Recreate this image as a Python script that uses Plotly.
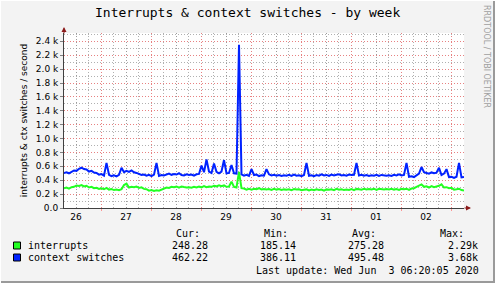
import plotly.graph_objects as go
import pandas as pd

# ---------------- data ----------------
start_time = "2020-05-26 06:14"
step_minutes = 72
ctx_switches = [
    505, 515, 500, 525, 540, 535, 565, 580, 560, 555,
    525, 535, 510, 505, 480, 488, 465, 650, 478, 460,
    470, 455, 478, 580, 515, 535, 520, 540, 515, 505,
    495, 475, 482, 465, 478, 460, 480, 650, 462, 475,
    468, 485, 495, 478, 490, 482, 500, 475, 468, 485,
    475, 482, 465, 485, 490, 610, 515, 700, 525, 505,
    640, 520, 500, 525, 690, 500, 505, 620, 500, 495,
    2350, 485, 465, 478, 462, 560, 475, 482, 460, 472,
    465, 560, 485, 470, 478, 465, 475, 462, 472, 465,
    478, 462, 480, 465, 472, 460, 476, 650, 465, 472,
    458, 474, 465, 485, 468, 476, 462, 482, 468, 478,
    485, 468, 476, 465, 482, 474, 478, 650, 468, 478,
    465, 474, 462, 472, 465, 478, 462, 476, 470, 465,
    472, 462, 478, 470, 484, 468, 475, 650, 450, 458,
    446, 465, 495, 590, 515, 505, 495, 512, 500, 508,
    580, 475, 495, 560, 445, 448, 432, 450, 650, 440,
    445,
]
interrupts = [
    285, 295, 280, 300, 305, 325, 318, 330, 310, 320,
    295, 305, 285, 290, 275, 285, 270, 290, 265, 272,
    258, 265, 255, 270, 330, 350, 295, 305, 298, 310,
    290, 298, 275, 270, 250, 258, 245, 255, 248, 265,
    275, 295, 288, 305, 298, 310, 292, 310, 302, 295,
    300, 292, 305, 295, 310, 298, 315, 300, 308, 305,
    320, 312, 328, 315, 325, 305, 310, 380, 305, 295,
    520, 285, 280, 265, 275, 265, 278, 270, 285, 268,
    275, 268, 272, 260, 275, 265, 272, 260, 268, 262,
    270, 258, 272, 265, 270, 256, 262, 268, 252, 265,
    255, 268, 260, 265, 250, 268, 262, 270, 258, 275,
    262, 270, 258, 265, 260, 272, 258, 275, 270, 262,
    275, 266, 272, 268, 278, 262, 276, 270, 265, 272,
    268, 278, 265, 272, 260, 275, 270, 278, 262, 280,
    285, 305, 325, 340, 305, 312, 295, 315, 300, 305,
    320, 340, 295, 300, 285, 290, 265, 270, 278, 258,
    250,
]
series_names = ["interrupts", "context switches"]
series_colors = ["#22ff22", "#0022ff"]
stat_cur = [248.28, 462.22]
stat_min = [185.14, 386.11]
stat_avg = [275.28, 495.48]
stat_max = [2290, 3680]
day_labels = ["26", "27", "28", "29", "30", "31", "01", "02"]
day_noons = pd.date_range("2020-05-26 12:00", periods=8, freq="D")
y_ticks = [0, 200, 400, 600, 800, 1000, 1200, 1400, 1600, 1800, 2000, 2200, 2400]
y_ticktext = ["0.0"] + [f"{v/1000:.1f} k" for v in y_ticks[1:]]
x_range = ["2020-05-26 06:14", "2020-06-03 06:14"]
y_range = [0, 2520]
last_update = "Last update: Wed Jun  3 06:20:05 2020"

times = pd.date_range(start_time, periods=len(ctx_switches), freq=f"{step_minutes}min")

# ---------------- figure ----------------
W, H = 495, 283
L, R, T, B = 64, 31, 33, 75
PW, PH = W - L - R, H - T - B


def px(x):
    return (x - L) / PW


def py(y):
    return (H - B - y) / PH


MONO = "DejaVu Sans Mono"
SANS = "DejaVu Sans"

fig = go.Figure()
fig.add_trace(go.Scatter(x=times, y=interrupts, mode="lines",
                         line=dict(color=series_colors[0], width=2),
                         showlegend=False, hoverinfo="skip"))
fig.add_trace(go.Scatter(x=times, y=ctx_switches, mode="lines",
                         line=dict(color=series_colors[1], width=2),
                         showlegend=False, hoverinfo="skip"))
# helper trace for the day-boundary axis
fig.add_trace(go.Scatter(x=x_range, y=[None, None], xaxis="x2", mode="lines",
                         showlegend=False, hoverinfo="skip"))

grey = "rgba(150,150,150,0.75)"
red = "rgba(255,110,110,0.7)"
DOT = "1px,2px"

fig.update_layout(
    width=W, height=H,
    margin=dict(l=L, r=R, t=T, b=B),
    paper_bgcolor="#f3f3f3",
    plot_bgcolor="#ffffff",
    font=dict(family=SANS, size=9, color="#000000"),
    xaxis=dict(
        type="date", range=x_range,
        tickmode="array", tickvals=day_noons, ticktext=day_labels,
        tickfont=dict(family=SANS, size=9),
        showgrid=True, gridcolor=grey, griddash=DOT, gridwidth=1,
        ticks="", showline=True, linecolor="#404040", linewidth=1,
        zeroline=False,
        minor=dict(tickmode="linear", tick0="2020-05-26 00:00",
                   dtick=6 * 3600 * 1000, showgrid=True,
                   gridcolor=grey, griddash=DOT, gridwidth=1, ticks=""),
    ),
    xaxis2=dict(
        type="date", range=x_range, overlaying="x", side="bottom",
        tickmode="linear", tick0="2020-05-26 00:00", dtick=86400000,
        showticklabels=False, showgrid=True, gridcolor=red,
        griddash=DOT, gridwidth=1, ticks="outside", ticklen=2,
        tickcolor=red, showline=False, zeroline=False,
    ),
    yaxis=dict(
        range=y_range, tickmode="array", tickvals=y_ticks, ticktext=y_ticktext,
        tickfont=dict(family=SANS, size=9),
        showgrid=True, gridcolor=red, griddash=DOT, gridwidth=1,
        ticks="outside", ticklen=3, tickcolor="#808080",
        showline=True, linecolor="#404040", linewidth=1, zeroline=False,
        minor=dict(tickmode="linear", tick0=0, dtick=100, showgrid=True,
                   gridcolor=grey, griddash=DOT, gridwidth=1, ticks=""),
        title=dict(text="interrupts & ctx switches / second",
                   font=dict(family=SANS, size=9), standoff=6),
    ),
)

ann = []
# title
ann.append(dict(text="Interrupts & context switches - by week", xref="paper", yref="paper",
                x=px(247), y=py(13), xanchor="center", yanchor="middle", showarrow=False,
                font=dict(family=MONO, size=13)))
# credit
ann.append(dict(text="RRDTOOL / TOBI OETIKER", xref="paper", yref="paper",
                x=px(487), y=py(56), xanchor="center", yanchor="middle", showarrow=False,
                textangle=90, font=dict(family=SANS, size=8, color="#a0a0a0")))
# axis arrows
arrow_col = "#8b1a1a"
ann.append(dict(text="", xref="paper", yref="paper", x=0, y=py(27), ax=0, ay=8,
                showarrow=True, arrowhead=2, arrowsize=1, arrowwidth=1, arrowcolor=arrow_col))
ann.append(dict(text="", xref="paper", yref="paper", x=px(471), y=0, ax=-8, ay=0,
                showarrow=True, arrowhead=2, arrowsize=1, arrowwidth=1, arrowcolor=arrow_col))

# legend table
headers = ["Cur:", "Min:", "Avg:", "Max:"]
head_x = [202, 290, 378, 466]
val_x = [210, 298, 386, 480]
row_y = [245.5, 257.5]
for hx, h in zip(head_x, headers):
    ann.append(dict(text=h, xref="paper", yref="paper", x=px(hx), y=py(233),
                    xanchor="right", yanchor="middle", showarrow=False,
                    font=dict(family=MONO, size=10)))
shapes = []
for i, name in enumerate(series_names):
    ann.append(dict(text=name, xref="paper", yref="paper", x=px(26), y=py(row_y[i]),
                    xanchor="left", yanchor="middle", showarrow=False,
                    font=dict(family=MONO, size=10)))
    vals = [f"{stat_cur[i]:.2f}", f"{stat_min[i]:.2f}", f"{stat_avg[i]:.2f}",
            f"{stat_max[i]/1000:.2f}k"]
    for vx, v in zip(val_x, vals):
        ann.append(dict(text=v, xref="paper", yref="paper", x=px(vx), y=py(row_y[i]),
                        xanchor="right", yanchor="middle", showarrow=False,
                        font=dict(family=MONO, size=10)))
    shapes.append(dict(type="rect", xref="paper", yref="paper",
                       x0=px(13.5), x1=px(20.5), y0=py(row_y[i] - 3.5), y1=py(row_y[i] + 3.5),
                       fillcolor=series_colors[i], line=dict(color="#000000", width=1)))
ann.append(dict(text=last_update, xref="paper", yref="paper", x=px(481), y=py(270),
                xanchor="right", yanchor="middle", showarrow=False,
                font=dict(family=MONO, size=10)))

# image border (3D frame)
shapes.append(dict(type="line", xref="paper", yref="paper", x0=px(494), x1=px(494),
                   y0=py(0), y1=py(283), line=dict(color="#9a9a9a", width=2)))
shapes.append(dict(type="line", xref="paper", yref="paper", x0=px(0), x1=px(495),
                   y0=py(282), y1=py(282), line=dict(color="#9a9a9a", width=2)))
shapes.append(dict(type="line", xref="paper", yref="paper", x0=px(0.5), x1=px(0.5),
                   y0=py(0), y1=py(283), line=dict(color="#ffffff", width=1)))
shapes.append(dict(type="line", xref="paper", yref="paper", x0=px(0), x1=px(495),
                   y0=py(0.5), y1=py(0.5), line=dict(color="#ffffff", width=1)))

fig.update_layout(annotations=ann, shapes=shapes)

fig.write_html("out.html")
